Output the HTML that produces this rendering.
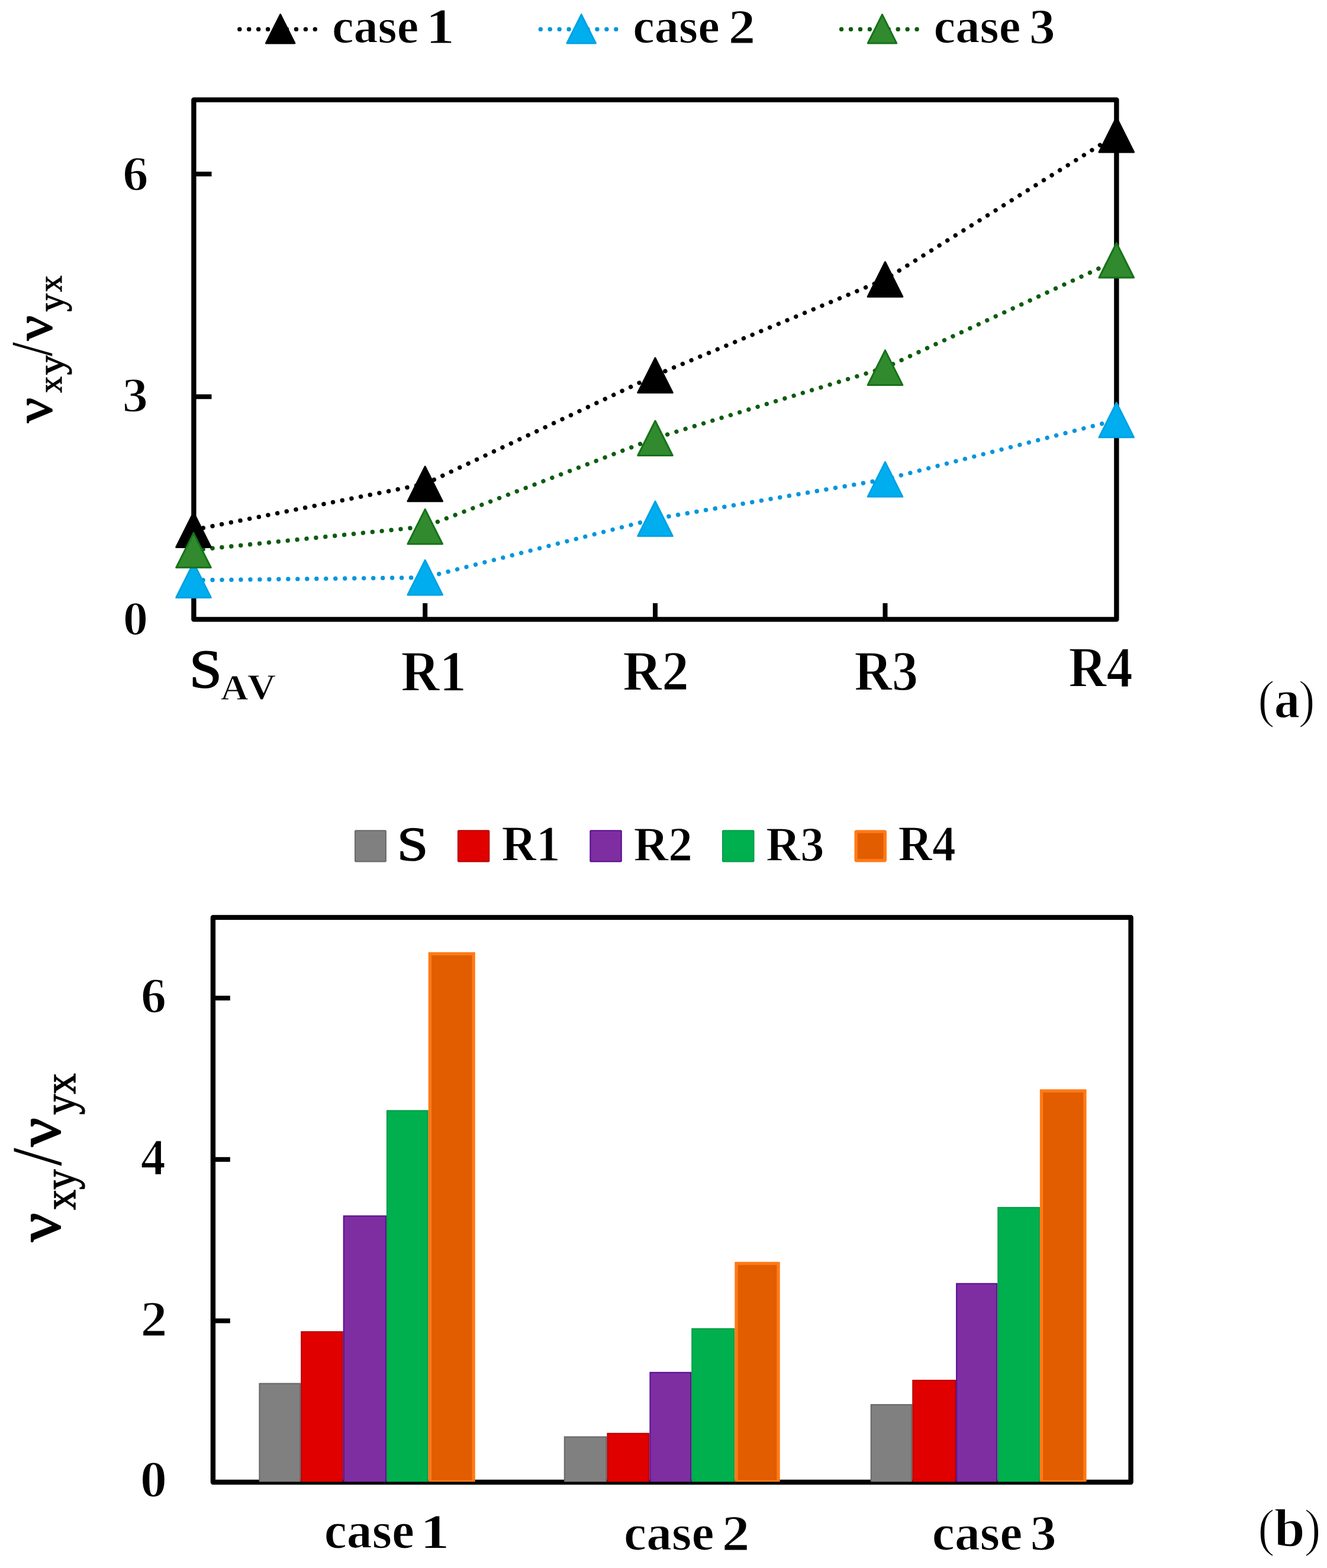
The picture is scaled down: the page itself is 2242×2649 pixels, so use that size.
<!DOCTYPE html>
<html lang="en"><head><meta charset="utf-8"><title>Figure: ratio of Poisson ratios</title>
<style>html,body{margin:0;padding:0;background:#fff}body{width:2242px;height:2649px;overflow:hidden}svg{display:block}</style>
</head><body>
<svg width="2242" height="2649" viewBox="0 0 2242 2649" font-family="'Liberation Serif', serif" fill="#000">
<rect width="2242" height="2649" fill="#fff"/>
<defs><filter id="soft" filterUnits="userSpaceOnUse" x="0" y="0" width="2242" height="2649"><feGaussianBlur stdDeviation="0.7"/></filter></defs>
<g id="chart-a" filter="url(#soft)">
<rect x="327.4" y="168.6" width="1559.0" height="877.8000000000001" fill="none" stroke="#000" stroke-width="8.4" stroke-linejoin="round"/>
<line x1="327.4" y1="670.20" x2="357.5" y2="670.20" stroke="#000" stroke-width="8.0"/>
<line x1="327.4" y1="294.00" x2="357.5" y2="294.00" stroke="#000" stroke-width="8.0"/>
<line x1="718.20" y1="1046.4" x2="718.20" y2="1019.0" stroke="#000" stroke-width="8.0"/>
<line x1="1107.00" y1="1046.4" x2="1107.00" y2="1019.0" stroke="#000" stroke-width="8.0"/>
<line x1="1495.50" y1="1046.4" x2="1495.50" y2="1019.0" stroke="#000" stroke-width="8.0"/>
<line x1="327.00" y1="895.15" x2="718.20" y2="817.55" stroke="#000" stroke-width="7.4" stroke-linecap="round" stroke-dasharray="0.01 15.957" stroke-dashoffset="15.28"/>
<line x1="718.20" y1="817.55" x2="1107.00" y2="634.05" stroke="#000" stroke-width="7.4" stroke-linecap="round" stroke-dasharray="0.01 15.964" stroke-dashoffset="15.19"/>
<line x1="1107.00" y1="634.05" x2="1495.50" y2="471.95" stroke="#000" stroke-width="7.4" stroke-linecap="round" stroke-dasharray="0.01 15.948" stroke-dashoffset="13.63"/>
<line x1="1495.50" y1="471.95" x2="1886.30" y2="227.75" stroke="#000" stroke-width="7.4" stroke-linecap="round" stroke-dasharray="0.01 15.988" stroke-dashoffset="3.93"/>
<line x1="327.00" y1="980.15" x2="718.20" y2="975.65" stroke="#0596dc" stroke-width="7.4" stroke-linecap="round" stroke-dasharray="0.01 15.972" stroke-dashoffset="15.94"/>
<line x1="718.20" y1="975.65" x2="1107.00" y2="876.35" stroke="#0596dc" stroke-width="7.4" stroke-linecap="round" stroke-dasharray="0.01 15.927" stroke-dashoffset="7.62"/>
<line x1="1107.00" y1="876.35" x2="1495.50" y2="809.85" stroke="#0596dc" stroke-width="7.4" stroke-linecap="round" stroke-dasharray="0.01 15.858" stroke-dashoffset="8.40"/>
<line x1="1495.50" y1="809.85" x2="1886.30" y2="709.55" stroke="#0596dc" stroke-width="7.4" stroke-linecap="round" stroke-dasharray="0.01 15.913" stroke-dashoffset="4.07"/>
<line x1="327.00" y1="929.55" x2="718.20" y2="889.65" stroke="#0c5c10" stroke-width="7.4" stroke-linecap="round" stroke-dasharray="0.01 15.972" stroke-dashoffset="15.78"/>
<line x1="718.20" y1="889.65" x2="1107.00" y2="740.25" stroke="#0c5c10" stroke-width="7.4" stroke-linecap="round" stroke-dasharray="0.01 15.929" stroke-dashoffset="9.17"/>
<line x1="1107.00" y1="740.25" x2="1495.50" y2="621.15" stroke="#0c5c10" stroke-width="7.4" stroke-linecap="round" stroke-dasharray="0.01 15.941" stroke-dashoffset="10.35"/>
<line x1="1495.50" y1="621.15" x2="1886.30" y2="439.75" stroke="#0c5c10" stroke-width="7.4" stroke-linecap="round" stroke-dasharray="0.01 15.942" stroke-dashoffset="1.48"/>
<path d="M327.00 865.90L356.30 924.40L297.70 924.40Z" fill="#000" stroke="#000" stroke-width="3" stroke-linejoin="round"/>
<path d="M718.20 788.30L747.50 846.80L688.90 846.80Z" fill="#000" stroke="#000" stroke-width="3" stroke-linejoin="round"/>
<path d="M1107.00 604.80L1136.30 663.30L1077.70 663.30Z" fill="#000" stroke="#000" stroke-width="3" stroke-linejoin="round"/>
<path d="M1495.50 442.70L1524.80 501.20L1466.20 501.20Z" fill="#000" stroke="#000" stroke-width="3" stroke-linejoin="round"/>
<path d="M1886.30 198.50L1915.60 257.00L1857.00 257.00Z" fill="#000" stroke="#000" stroke-width="3" stroke-linejoin="round"/>
<path d="M327.00 950.90L356.30 1009.40L297.70 1009.40Z" fill="#00aeef" stroke="#00a2e4" stroke-width="3" stroke-linejoin="round"/>
<path d="M718.20 946.40L747.50 1004.90L688.90 1004.90Z" fill="#00aeef" stroke="#00a2e4" stroke-width="3" stroke-linejoin="round"/>
<path d="M1107.00 847.10L1136.30 905.60L1077.70 905.60Z" fill="#00aeef" stroke="#00a2e4" stroke-width="3" stroke-linejoin="round"/>
<path d="M1495.50 780.60L1524.80 839.10L1466.20 839.10Z" fill="#00aeef" stroke="#00a2e4" stroke-width="3" stroke-linejoin="round"/>
<path d="M1886.30 680.30L1915.60 738.80L1857.00 738.80Z" fill="#00aeef" stroke="#00a2e4" stroke-width="3" stroke-linejoin="round"/>
<path d="M327.00 900.30L356.30 958.80L297.70 958.80Z" fill="#338a2d" stroke="#16721a" stroke-width="3" stroke-linejoin="round"/>
<path d="M718.20 860.40L747.50 918.90L688.90 918.90Z" fill="#338a2d" stroke="#16721a" stroke-width="3" stroke-linejoin="round"/>
<path d="M1107.00 711.00L1136.30 769.50L1077.70 769.50Z" fill="#338a2d" stroke="#16721a" stroke-width="3" stroke-linejoin="round"/>
<path d="M1495.50 591.90L1524.80 650.40L1466.20 650.40Z" fill="#338a2d" stroke="#16721a" stroke-width="3" stroke-linejoin="round"/>
<path d="M1886.30 410.50L1915.60 469.00L1857.00 469.00Z" fill="#338a2d" stroke="#16721a" stroke-width="3" stroke-linejoin="round"/>
<line x1="404.80" y1="49.4" x2="533.70" y2="49.4" stroke="#000" stroke-width="7.4" stroke-linecap="round" stroke-dasharray="0.01 15.93"/>
<path d="M473.70 24.60L497.90 72.90L449.50 72.90Z" fill="#000" stroke="#000" stroke-width="3" stroke-linejoin="round"/>
<text><tspan x="560.93" y="72.26" font-size="83.29" textLength="146.27" lengthAdjust="spacingAndGlyphs" font-weight="bold" stroke="#fff" stroke-width="1.18" stroke-linejoin="round">case</tspan> <tspan x="719.44" y="72.60" font-size="83.66" textLength="48.51" lengthAdjust="spacingAndGlyphs" font-weight="bold" stroke="#fff" stroke-width="1.2" stroke-linejoin="round">1</tspan></text>
<line x1="913.30" y1="49.4" x2="1042.20" y2="49.4" stroke="#0596dc" stroke-width="7.4" stroke-linecap="round" stroke-dasharray="0.01 15.93"/>
<path d="M982.20 24.60L1006.40 72.90L958.00 72.90Z" fill="#00aeef" stroke="#00a2e4" stroke-width="3" stroke-linejoin="round"/>
<text><tspan x="1069.22" y="72.26" font-size="83.29" textLength="146.58" lengthAdjust="spacingAndGlyphs" font-weight="bold" stroke="#fff" stroke-width="1.18" stroke-linejoin="round">case</tspan> <tspan x="1230.67" y="72.80" font-size="83.48" textLength="45.42" lengthAdjust="spacingAndGlyphs" font-weight="bold" stroke="#fff" stroke-width="1.2" stroke-linejoin="round">2</tspan></text>
<line x1="1421.60" y1="49.4" x2="1550.50" y2="49.4" stroke="#0c5c10" stroke-width="7.4" stroke-linecap="round" stroke-dasharray="0.01 15.93"/>
<path d="M1490.50 24.60L1514.70 72.90L1466.30 72.90Z" fill="#338a2d" stroke="#16721a" stroke-width="3" stroke-linejoin="round"/>
<text><tspan x="1577.52" y="72.26" font-size="83.29" textLength="146.90" lengthAdjust="spacingAndGlyphs" font-weight="bold" stroke="#fff" stroke-width="1.18" stroke-linejoin="round">case</tspan> <tspan x="1739.01" y="73.96" font-size="83.73" textLength="43.65" lengthAdjust="spacingAndGlyphs" font-weight="bold" stroke="#fff" stroke-width="1.2" stroke-linejoin="round">3</tspan></text>
<text x="207.37" y="320.57" font-size="83.28" textLength="43.33" lengthAdjust="spacingAndGlyphs" font-weight="bold" stroke="#fff" stroke-width="1.6" stroke-linejoin="round">6</text>
<text x="206.65" y="694.78" font-size="81.94" textLength="43.18" lengthAdjust="spacingAndGlyphs" font-weight="bold" stroke="#fff" stroke-width="1.6" stroke-linejoin="round">3</text>
<text x="207.71" y="1072.00" font-size="80.30" textLength="42.38" lengthAdjust="spacingAndGlyphs" font-weight="bold" stroke="#fff" stroke-width="1.6" stroke-linejoin="round">0</text>
<text><tspan x="320.09" y="1161.38" font-size="91.64" textLength="54.84" lengthAdjust="spacingAndGlyphs" font-weight="normal" stroke="#000" stroke-width="1.8" stroke-linejoin="round">S</tspan><tspan x="373.11" y="1181.76" font-size="62.27" textLength="46.50" lengthAdjust="spacingAndGlyphs" font-weight="bold" stroke="#fff" stroke-width="0.89" stroke-linejoin="round">A</tspan><tspan x="417.90" y="1181.32" font-size="61.47" textLength="47.95" lengthAdjust="spacingAndGlyphs" font-weight="bold" stroke="#fff" stroke-width="0.88" stroke-linejoin="round">V</tspan></text>
<text x="677.55" y="1167.39" font-size="97.24" textLength="110.15" lengthAdjust="spacingAndGlyphs" font-weight="bold" stroke="#fff" stroke-width="1.39" stroke-linejoin="round">R1</text>
<text x="1052.35" y="1166.28" font-size="95.86" textLength="111.38" lengthAdjust="spacingAndGlyphs" font-weight="bold" stroke="#fff" stroke-width="1.37" stroke-linejoin="round">R2</text>
<text x="1443.60" y="1165.93" font-size="95.33" textLength="107.52" lengthAdjust="spacingAndGlyphs" font-weight="bold" stroke="#fff" stroke-width="1.37" stroke-linejoin="round">R3</text>
<text x="1805.58" y="1160.19" font-size="96.61" textLength="108.02" lengthAdjust="spacingAndGlyphs" font-weight="bold" stroke="#fff" stroke-width="1.38" stroke-linejoin="round">R4</text>
<text transform="translate(88 715) rotate(-90)"><tspan x="0.50" y="-0.99" font-size="89.03" textLength="42.80" lengthAdjust="spacingAndGlyphs" font-weight="normal" stroke="#000" stroke-width="1.6" stroke-linejoin="round">ν</tspan><tspan x="51.45" y="16.20" font-size="56.48" textLength="27.40" lengthAdjust="spacingAndGlyphs" font-weight="normal" stroke="#000" stroke-width="1.2" stroke-linejoin="round">x</tspan><tspan x="81.52" y="19.20" font-size="62.39" textLength="34.12" lengthAdjust="spacingAndGlyphs" font-weight="normal" stroke="#000" stroke-width="1.2" stroke-linejoin="round">y</tspan><tspan x="113.32" y="0.41" font-size="102.20" textLength="23.51" lengthAdjust="spacingAndGlyphs" font-weight="bold" stroke="#fff" stroke-width="1.46" stroke-linejoin="round">/</tspan><tspan x="139.50" y="-0.99" font-size="89.03" textLength="42.80" lengthAdjust="spacingAndGlyphs" font-weight="normal" stroke="#000" stroke-width="1.6" stroke-linejoin="round">ν</tspan><tspan x="188.39" y="19.20" font-size="62.39" textLength="30.62" lengthAdjust="spacingAndGlyphs" font-weight="normal" stroke="#000" stroke-width="1.2" stroke-linejoin="round">y</tspan><tspan x="222.05" y="16.20" font-size="56.48" textLength="27.40" lengthAdjust="spacingAndGlyphs" font-weight="normal" stroke="#000" stroke-width="1.2" stroke-linejoin="round">x</tspan></text>
</g>
<g id="chart-b" filter="url(#soft)">
<rect x="359.9" y="1549.9" width="1550.6999999999998" height="954.0999999999999" fill="none" stroke="#000" stroke-width="8.4" stroke-linejoin="round"/>
<line x1="359.9" y1="2231.40" x2="388.8" y2="2231.40" stroke="#000" stroke-width="8.0"/>
<line x1="359.9" y1="1958.80" x2="388.8" y2="1958.80" stroke="#000" stroke-width="8.0"/>
<line x1="359.9" y1="1686.20" x2="388.8" y2="1686.20" stroke="#000" stroke-width="8.0"/>
<clipPath id="barclip"><rect x="0" y="1500" width="2242" height="1003.2"/></clipPath>
<g clip-path="url(#barclip)">
<rect x="438.40" y="2337.40" width="68.80" height="166.80" fill="#808080" stroke="#686868" stroke-width="2"/>
<rect x="509.20" y="2250.00" width="69.50" height="254.20" fill="#e00000" stroke="#b60000" stroke-width="2"/>
<rect x="580.70" y="2054.30" width="71.20" height="449.90" fill="#7f2da1" stroke="#560f92" stroke-width="2"/>
<rect x="653.90" y="1876.40" width="68.80" height="627.80" fill="#00b050" stroke="#009c44" stroke-width="2"/>
<rect x="726.40" y="1611.30" width="73.70" height="892.00" fill="#e25c00" stroke="#ff7a18" stroke-width="5.4"/>
<rect x="953.80" y="2427.50" width="70.60" height="76.70" fill="#808080" stroke="#686868" stroke-width="2"/>
<rect x="1026.40" y="2421.70" width="70.00" height="82.50" fill="#e00000" stroke="#b60000" stroke-width="2"/>
<rect x="1098.40" y="2318.70" width="68.80" height="185.50" fill="#7f2da1" stroke="#560f92" stroke-width="2"/>
<rect x="1169.20" y="2244.90" width="71.10" height="259.30" fill="#00b050" stroke="#009c44" stroke-width="2"/>
<rect x="1244.00" y="2134.50" width="71.00" height="368.80" fill="#e25c00" stroke="#ff7a18" stroke-width="5.4"/>
<rect x="1471.70" y="2373.10" width="68.60" height="131.10" fill="#808080" stroke="#686868" stroke-width="2"/>
<rect x="1542.30" y="2332.00" width="71.80" height="172.20" fill="#e00000" stroke="#b60000" stroke-width="2"/>
<rect x="1616.10" y="2168.60" width="68.20" height="335.60" fill="#7f2da1" stroke="#560f92" stroke-width="2"/>
<rect x="1686.30" y="2040.10" width="69.60" height="464.10" fill="#00b050" stroke="#009c44" stroke-width="2"/>
<rect x="1759.60" y="1843.00" width="73.30" height="660.30" fill="#e25c00" stroke="#ff7a18" stroke-width="5.4"/>
</g>
<rect x="600.00" y="1403.20" width="51.90" height="52.30" fill="#808080" stroke="#686868" stroke-width="2" rx="1" stroke-linejoin="round"/>
<text x="671.09" y="1453.19" font-size="80.90" textLength="52.25" lengthAdjust="spacingAndGlyphs" font-weight="normal" stroke="#000" stroke-width="1.6" stroke-linejoin="round">S</text>
<rect x="773.90" y="1403.20" width="52.40" height="52.30" fill="#e00000" stroke="#b60000" stroke-width="2" rx="1" stroke-linejoin="round"/>
<text x="847.58" y="1454.20" font-size="84.12" textLength="99.04" lengthAdjust="spacingAndGlyphs" font-weight="bold" stroke="#fff" stroke-width="1.2" stroke-linejoin="round">R1</text>
<rect x="997.30" y="1403.20" width="52.50" height="52.30" fill="#7f2da1" stroke="#560f92" stroke-width="2" rx="1" stroke-linejoin="round"/>
<text x="1070.38" y="1454.20" font-size="83.48" textLength="99.45" lengthAdjust="spacingAndGlyphs" font-weight="bold" stroke="#fff" stroke-width="1.2" stroke-linejoin="round">R2</text>
<rect x="1221.00" y="1403.20" width="52.50" height="52.30" fill="#00b050" stroke="#009c44" stroke-width="2" rx="1" stroke-linejoin="round"/>
<text x="1294.10" y="1454.16" font-size="83.42" textLength="98.39" lengthAdjust="spacingAndGlyphs" font-weight="bold" stroke="#fff" stroke-width="1.19" stroke-linejoin="round">R3</text>
<rect x="1446.20" y="1404.90" width="49.10" height="48.90" fill="#e25c00" stroke="#ff7a18" stroke-width="5.4" rx="1" stroke-linejoin="round"/>
<text x="1517.61" y="1454.20" font-size="84.12" textLength="97.16" lengthAdjust="spacingAndGlyphs" font-weight="bold" stroke="#fff" stroke-width="1.2" stroke-linejoin="round">R4</text>
<text x="237.99" y="1711.05" font-size="84.78" textLength="42.99" lengthAdjust="spacingAndGlyphs" font-weight="bold" stroke="#fff" stroke-width="1.6" stroke-linejoin="round">6</text>
<text x="237.74" y="1984.10" font-size="86.87" textLength="42.04" lengthAdjust="spacingAndGlyphs" font-weight="bold" stroke="#fff" stroke-width="1.6" stroke-linejoin="round">4</text>
<text x="237.40" y="2257.00" font-size="85.30" textLength="45.06" lengthAdjust="spacingAndGlyphs" font-weight="bold" stroke="#fff" stroke-width="1.6" stroke-linejoin="round">2</text>
<text x="236.87" y="2528.34" font-size="86.22" textLength="45.36" lengthAdjust="spacingAndGlyphs" font-weight="bold" stroke="#fff" stroke-width="1.6" stroke-linejoin="round">0</text>
<text><tspan x="547.68" y="2615.05" font-size="86.31" textLength="152.44" lengthAdjust="spacingAndGlyphs" font-weight="bold" stroke="#fff" stroke-width="1.23" stroke-linejoin="round">case</tspan> <tspan x="709.99" y="2614.99" font-size="83.34" textLength="49.45" lengthAdjust="spacingAndGlyphs" font-weight="bold" stroke="#fff" stroke-width="1.19" stroke-linejoin="round">1</tspan></text>
<text><tspan x="1054.10" y="2617.96" font-size="84.17" textLength="152.51" lengthAdjust="spacingAndGlyphs" font-weight="bold" stroke="#fff" stroke-width="1.2" stroke-linejoin="round">case</tspan> <tspan x="1219.85" y="2619.01" font-size="85.18" textLength="46.77" lengthAdjust="spacingAndGlyphs" font-weight="bold" stroke="#fff" stroke-width="1.22" stroke-linejoin="round">2</tspan></text>
<text><tspan x="1574.80" y="2617.96" font-size="84.17" textLength="152.51" lengthAdjust="spacingAndGlyphs" font-weight="bold" stroke="#fff" stroke-width="1.2" stroke-linejoin="round">case</tspan> <tspan x="1740.88" y="2618.96" font-size="84.96" textLength="43.91" lengthAdjust="spacingAndGlyphs" font-weight="bold" stroke="#fff" stroke-width="1.22" stroke-linejoin="round">3</tspan></text>
<text transform="translate(102 2099) rotate(-90)"><tspan x="1.00" y="-1.34" font-size="104.30" textLength="49.11" lengthAdjust="spacingAndGlyphs" font-weight="normal" stroke="#000" stroke-width="1.8" stroke-linejoin="round">ν</tspan><tspan x="54.96" y="25.46" font-size="76.12" textLength="68.53" lengthAdjust="spacingAndGlyphs" font-weight="normal" stroke="#000" stroke-width="1.3" stroke-linejoin="round">xy</tspan><tspan x="129.21" y="2.25" font-size="123.56" textLength="30.49" lengthAdjust="spacingAndGlyphs" font-weight="bold" stroke="#fff" stroke-width="1.77" stroke-linejoin="round">/</tspan><tspan x="161.70" y="-1.34" font-size="104.30" textLength="49.11" lengthAdjust="spacingAndGlyphs" font-weight="normal" stroke="#000" stroke-width="1.8" stroke-linejoin="round">ν</tspan><tspan x="215.65" y="25.46" font-size="76.12" textLength="70.20" lengthAdjust="spacingAndGlyphs" font-weight="normal" stroke="#000" stroke-width="1.3" stroke-linejoin="round">yx</tspan></text>
</g>
<g id="panel-labels">
<text><tspan x="2125.37" y="1211.10" font-size="88.56" textLength="28.34" lengthAdjust="spacingAndGlyphs" font-weight="normal" stroke="#fff" stroke-width="1.6" stroke-linejoin="round">(</tspan><tspan x="2152.73" y="1212.30" font-size="93.75" textLength="43.44" lengthAdjust="spacingAndGlyphs" font-weight="bold" stroke="#fff" stroke-width="1.33" stroke-linejoin="round">a</tspan><tspan x="2193.68" y="1211.10" font-size="88.56" textLength="27.92" lengthAdjust="spacingAndGlyphs" font-weight="normal" stroke="#fff" stroke-width="1.6" stroke-linejoin="round">)</tspan></text>
<text><tspan x="2125.37" y="2611.10" font-size="88.56" textLength="28.34" lengthAdjust="spacingAndGlyphs" font-weight="normal" stroke="#fff" stroke-width="1.6" stroke-linejoin="round">(</tspan><tspan x="2152.95" y="2611.84" font-size="91.89" textLength="51.63" lengthAdjust="spacingAndGlyphs" font-weight="bold" stroke="#fff" stroke-width="1.32" stroke-linejoin="round">b</tspan><tspan x="2203.57" y="2611.10" font-size="88.56" textLength="28.05" lengthAdjust="spacingAndGlyphs" font-weight="normal" stroke="#fff" stroke-width="1.6" stroke-linejoin="round">)</tspan></text>
</g>
</svg>
</body></html>
